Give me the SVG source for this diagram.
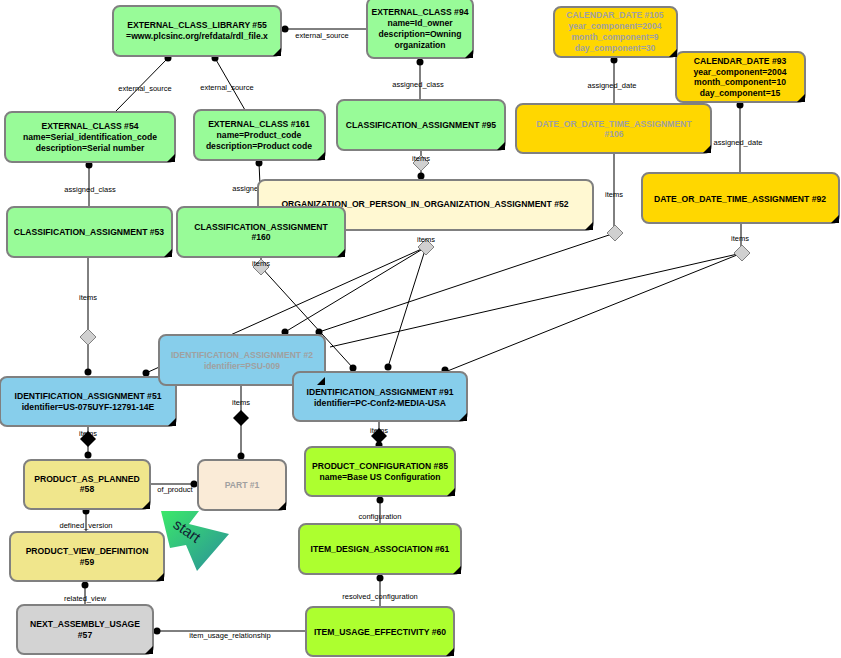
<svg xmlns="http://www.w3.org/2000/svg" width="841" height="658" viewBox="0 0 841 658">
<defs>
<style>
.n{stroke:#808080;stroke-width:2}
.t{font-family:"Liberation Sans",Arial,sans-serif;font-size:8.6px;font-weight:bold;text-anchor:middle;fill:#000}
.g{fill:#a0a0a0}
.l{font-family:"Liberation Sans",Arial,sans-serif;font-size:7.5px;text-anchor:middle;fill:#000}
.c{stroke:#000;stroke-width:1;fill:none}
.gd{fill:#d0d0d0;stroke:#808080}
.bd{fill:#000}
.gr{fill:#98FB98}.yl{fill:#FFD700}.bl{fill:#87CEEB}.kh{fill:#F0E68C}.lm{fill:#ADFF2F}
</style>
<linearGradient id="sg" x1="0" y1="0" x2="1" y2="1"><stop offset="0" stop-color="#3be86a"/><stop offset="1" stop-color="#2a8f9a"/></linearGradient>
</defs>
<rect width="841" height="658" fill="#fff"/>
<g id="connectors">
<path class="c" d="M285,29H366M168,58L115,112M215,58L245,110M420,62V100M89,165V207M259,163L261,207M421,150V176M614,60V104M740,105V173M614,153V233M741,223V253M88,257V372M261,257V267L353,368M426,247L146,373M426,247L285,332M426,247L388,367M615,233L319,332M742,253L330,347M742,253L445,372M88,426V455M241,385V456M379,421V445M150,484H194M86,511V532M85,585V605M380,500V524M380,578V607M306,631H157"/>
<g fill="#000">
<circle cx="285" cy="29" r="3.5"/><circle cx="168" cy="58" r="3.5"/><circle cx="215" cy="58" r="3.5"/><circle cx="420" cy="62" r="3.5"/><circle cx="89" cy="165" r="3.5"/><circle cx="259" cy="163" r="3.5"/><circle cx="421" cy="176" r="3.5"/><circle cx="614" cy="60" r="3.5"/><circle cx="740" cy="105" r="3.5"/><circle cx="88" cy="372" r="3.5"/><circle cx="146" cy="373" r="3.5"/><circle cx="285" cy="332" r="3.5"/><circle cx="319" cy="332" r="3.5"/><circle cx="353" cy="368" r="3.5"/><circle cx="388" cy="367" r="3.5"/><circle cx="445" cy="370" r="3.5"/><circle cx="88" cy="455" r="3.5"/><circle cx="241" cy="456" r="3.5"/><circle cx="379" cy="445" r="3.5"/><circle cx="194" cy="484" r="3.5"/><circle cx="86" cy="511" r="3.5"/><circle cx="85" cy="585" r="3.5"/><circle cx="380" cy="500" r="3.5"/><circle cx="380" cy="578" r="3.5"/><circle cx="157" cy="631" r="3.5"/>
</g>
<path class="gd" d="M421,155l8,8l-8,8l-8,-8zM426,239l8,8l-8,8l-8,-8zM615,225l8,8l-8,8l-8,-8zM742,245l8,8l-8,8l-8,-8zM261,259l8,8l-8,8l-8,-8zM88,329l8,8l-8,8l-8,-8z"/>
<path class="bd" d="M88,431l8,8l-8,8l-8,-8zM241,410l8,8l-8,8l-8,-8zM379,428l8,8l-8,8l-8,-8z"/>
<g class="l">
<text x="322" y="38">external_source</text><text x="145" y="91">external_source</text><text x="227" y="90">external_source</text><text x="418" y="87">assigned_class</text><text x="90" y="192">assigned_class</text><text x="258" y="191">assigned_class</text><text x="421" y="161">items</text><text x="612" y="88">assigned_date</text><text x="738" y="145">assigned_date</text><text x="614" y="197">items</text><text x="740" y="241">items</text><text x="426" y="242">items</text><text x="261" y="266">items</text><text x="88" y="300">items</text><text x="88" y="436">items</text><text x="241" y="405">items</text><text x="379" y="433">items</text><text x="175" y="492">of_product</text><text x="86" y="528">defined_version</text><text x="85" y="601">related_view</text><text x="380" y="519">configuration</text><text x="380" y="599">resolved_configuration</text><text x="230" y="638">item_usage_relationship</text>
</g>
</g>
<g id="n55"><rect class="n gr" x="113" y="6" width="168" height="50" rx="7"/><text class="t" x="197" y="28">EXTERNAL_CLASS_LIBRARY #55</text><text class="t" x="197" y="39">=www.plcsinc.org/refdata/rdl_file.x</text></g>
<g id="n94"><rect class="n gr" x="367" y="-2" width="106" height="60" rx="7"/><text class="t" x="420" y="15">EXTERNAL_CLASS #94</text><text class="t" x="420" y="26">name=Id_owner</text><text class="t" x="420" y="37">description=Owning</text><text class="t" x="420" y="48">organization</text></g>
<g id="n54"><rect class="n gr" x="5" y="112" width="170" height="50" rx="7"/><text class="t" x="90" y="129">EXTERNAL_CLASS #54</text><text class="t" x="90" y="140">name=Serial_identification_code</text><text class="t" x="90" y="151">description=Serial number</text></g>
<g id="n161"><rect class="n gr" x="194" y="110" width="131" height="50" rx="7"/><text class="t" x="259" y="127">EXTERNAL_CLASS #161</text><text class="t" x="259" y="138">name=Product_code</text><text class="t" x="259" y="149">description=Product code</text></g>
<g id="n95"><rect class="n gr" x="337" y="100" width="168" height="50" rx="7"/><text class="t" x="421" y="128">CLASSIFICATION_ASSIGNMENT #95</text></g>
<g id="n105"><rect class="n yl" x="554" y="7" width="123" height="50" rx="7"/><text class="t g" x="615" y="18">CALENDAR_DATE #105</text><text class="t g" x="615" y="29">year_component=2004</text><text class="t g" x="615" y="40">month_component=9</text><text class="t g" x="615" y="51">day_component=30</text></g>
<g id="n93"><rect class="n yl" x="676" y="52" width="129" height="50" rx="7"/><text class="t" x="740" y="64">CALENDAR_DATE #93</text><text class="t" x="740" y="75">year_component=2004</text><text class="t" x="740" y="85">month_component=10</text><text class="t" x="740" y="96">day_component=15</text></g>
<g id="n106"><rect class="n yl" x="516" y="104" width="195" height="49" rx="7"/><text class="t g" x="614" y="127">DATE_OR_DATE_TIME_ASSIGNMENT</text><text class="t g" x="614" y="137">#106</text></g>
<g id="n52"><rect class="n" fill="#FFF8D2" x="258" y="180" width="335" height="50" rx="7"/><text class="t" x="425" y="207">ORGANIZATION_OR_PERSON_IN_ORGANIZATION_ASSIGNMENT #52</text></g>
<g id="n92"><rect class="n yl" x="642" y="173" width="197" height="50" rx="7"/><text class="t" x="740" y="202">DATE_OR_DATE_TIME_ASSIGNMENT #92</text></g>
<g id="n53"><rect class="n gr" x="7" y="207" width="165" height="50" rx="7"/><text class="t" x="89" y="235">CLASSIFICATION_ASSIGNMENT #53</text></g>
<g id="n160"><rect class="n gr" x="177" y="207" width="168" height="50" rx="7"/><text class="t" x="261" y="230">CLASSIFICATION_ASSIGNMENT</text><text class="t" x="261" y="240">#160</text></g>
<g id="n51"><rect class="n bl" x="0" y="377" width="176" height="49" rx="7"/><text class="t" x="88" y="399">IDENTIFICATION_ASSIGNMENT #51</text><text class="t" x="88" y="410">identifier=US-075UYF-12791-14E</text></g>
<g id="n2"><rect class="n bl" x="159" y="335" width="166" height="50" rx="7"/><text class="t g" x="242" y="358">IDENTIFICATION_ASSIGNMENT #2</text><text class="t g" x="242" y="369">identifier=PSU-009</text></g>
<g id="n91"><rect class="n bl" x="293" y="372" width="174" height="49" rx="7"/><text class="t" x="380" y="395">IDENTIFICATION_ASSIGNMENT #91</text><text class="t" x="380" y="406">identifier=PC-Conf2-MEDIA-USA</text></g>
<g id="n58"><rect class="n kh" x="24" y="460" width="126" height="49" rx="7"/><text class="t" x="87" y="482">PRODUCT_AS_PLANNED</text><text class="t" x="87" y="492">#58</text></g>
<g id="n1"><rect class="n" fill="#FAEBD7" x="198" y="460" width="88" height="50" rx="7"/><text class="t g" x="242" y="488">PART #1</text></g>
<g id="n85"><rect class="n lm" x="305" y="447" width="150" height="49" rx="7"/><text class="t" x="380" y="469">PRODUCT_CONFIGURATION #85</text><text class="t" x="380" y="480">name=Base US Configuration</text></g>
<g id="n59"><rect class="n kh" x="10" y="532" width="154" height="49" rx="7"/><text class="t" x="87" y="554">PRODUCT_VIEW_DEFINITION</text><text class="t" x="87" y="565">#59</text></g>
<g id="n61"><rect class="n lm" x="299" y="524" width="162" height="50" rx="7"/><text class="t" x="380" y="552">ITEM_DESIGN_ASSOCIATION #61</text></g>
<g id="n57"><rect class="n" fill="#D3D3D3" x="17" y="605" width="136" height="49" rx="7"/><text class="t" x="85" y="627">NEXT_ASSEMBLY_USAGE</text><text class="t" x="85" y="638">#57</text></g>
<g id="n60"><rect class="n lm" x="306" y="607" width="148" height="49" rx="7"/><text class="t" x="380" y="635">ITEM_USAGE_EFFECTIVITY #60</text></g>
<g id="corners" fill="#000">
<path d="M281,48v8h-8zM473,50v8h-8zM175,154v8h-8zM325,152v8h-8zM505,142v8h-8zM677,49v8h-8zM805,94v8h-8zM711,145v8h-8zM593,222v8h-8zM839,215v8h-8zM172,249v8h-8zM345,249v8h-8zM176,418v8h-8zM325,377v8h-8zM467,413v8h-8zM150,501v8h-8zM286,502v8h-8zM455,488v8h-8zM164,573v8h-8zM461,566v8h-8zM153,646v8h-8zM454,648v8h-8z"/>
</g>
<g id="start">
<polygon points="161,511 199,511 189,524 229,534 197,571 186,545 170,548" fill="url(#sg)"/>
<text x="184" y="535" transform="rotate(35 184 535)" style="font-family:'Liberation Sans',Arial,sans-serif;font-size:15px;fill:#123;text-anchor:middle">start</text>
</g>
</svg>
